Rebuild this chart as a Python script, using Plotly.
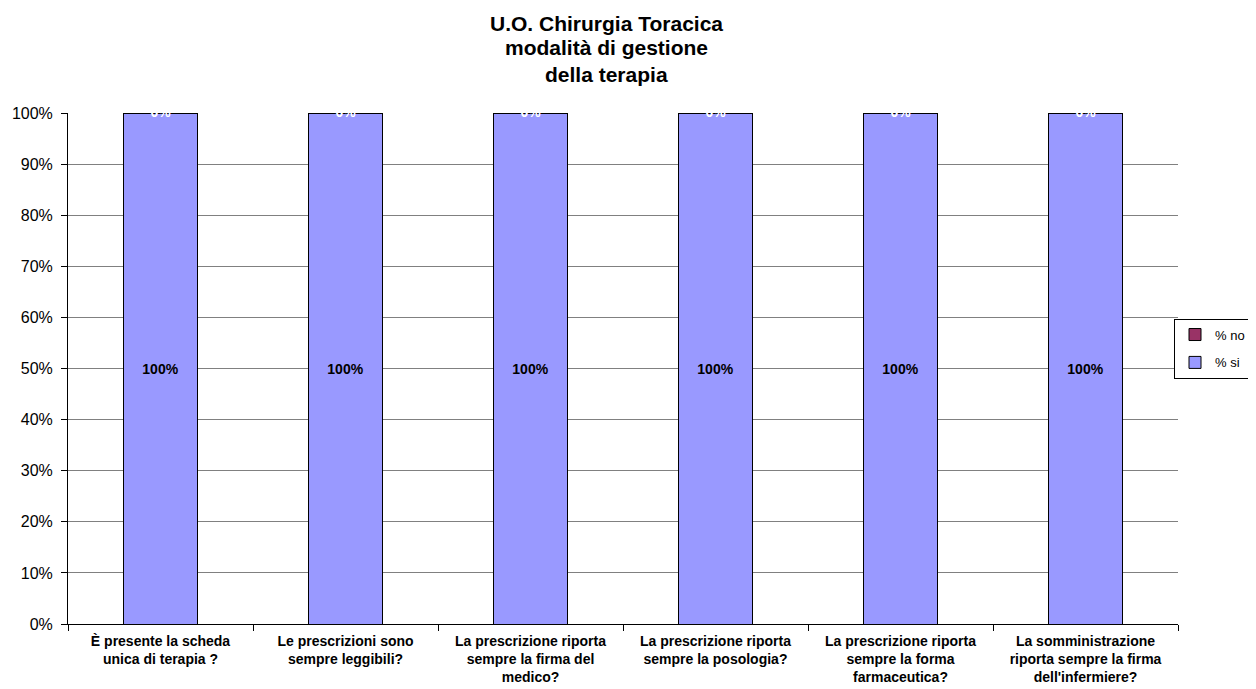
import plotly.graph_objects as go

categories = [
    "È presente la scheda<br>unica di terapia ?",
    "Le prescrizioni sono<br>sempre leggibili?",
    "La prescrizione riporta<br>sempre la firma del<br>medico?",
    "La prescrizione riporta<br>sempre la posologia?",
    "La prescrizione riporta<br>sempre la forma<br>farmaceutica?",
    "La somministrazione<br>riporta sempre la firma<br>dell'infermiere?",
]
si_values = [1.0, 1.0, 1.0, 1.0, 1.0, 1.0]
no_values = [0.0, 0.0, 0.0, 0.0, 0.0, 0.0]
title_lines = ["U.O. Chirurgia Toracica", "modalità di gestione", "della terapia"]

FONT = "Liberation Sans, Arial, sans-serif"

# the page body adds an 8px margin, so the figure fills the rest of the viewport
W, H = 1248, 681
L, R, T, B = 60, 78, 105, 65

fig = go.Figure()
fig.add_trace(go.Bar(
    name="% si", x=categories, y=si_values, legendgroup="si", legendrank=2,
    marker=dict(color="#9999FF", line=dict(color="#000000", width=1)),
    text=[f"{v:.0%}" for v in si_values], textposition="inside",
    insidetextanchor="middle",
    textfont=dict(family=FONT, size=14, color="#000000", weight="bold"),
    hoverinfo="skip",
))
fig.add_trace(go.Bar(
    name="% no", x=categories, y=no_values, legendgroup="no", legendrank=1,
    marker=dict(color="#993366", line=dict(color="#000000", width=1)),
    hoverinfo="skip",
))
fig.add_trace(go.Scatter(
    x=categories, y=[s + n for s, n in zip(si_values, no_values)],
    mode="text", text=[f"{v:.0%}" for v in no_values],
    textposition="middle center",
    textfont=dict(family=FONT, size=14, color="#FFFFFF", weight="bold"),
    showlegend=False, hoverinfo="skip", cliponaxis=False,
))

plot_h = H - T - B
plot_w = W - L - R
title_bottoms = [28.5, 53.5, 79.5]  # figure pixels from top (text box bottoms)
title_cx = 598
annotations = []
for line, yb in zip(title_lines, title_bottoms):
    annotations.append(dict(
        text=line, xref="paper", yref="paper",
        x=(title_cx - L) / plot_w, xanchor="center",
        y=(H - B - yb) / plot_h, yanchor="bottom",
        showarrow=False,
        font=dict(family=FONT, size=21, color="#000000", weight="bold"),
    ))

fig.update_layout(
    width=W, height=H,
    barmode="stack", bargap=0.6,
    paper_bgcolor="white", plot_bgcolor="white",
    margin=dict(l=L, r=R, t=T, b=B, autoexpand=False),
    font=dict(family=FONT, color="#000000"),
    annotations=annotations,
    legend=dict(
        x=(1166 - L) / plot_w, xanchor="left", y=0.539, yanchor="middle",
        traceorder="grouped",
        bordercolor="#000000", borderwidth=1, bgcolor="white",
        font=dict(family=FONT, size=13, color="#000000"),
        itemwidth=30, tracegroupgap=8,
    ),
    showlegend=True,
)
fig.update_yaxes(
    range=[0, 1], tickformat=".0%", dtick=0.1, tick0=0,
    showgrid=True, gridcolor="#808080", gridwidth=1,
    showline=True, linecolor="#000000", linewidth=1,
    ticks="outside", ticklen=6, tickcolor="#000000",
    ticklabelstandoff=5,
    tickfont=dict(family=FONT, size=16, color="#000000"),
    zeroline=False,
)
fig.update_xaxes(
    showline=True, linecolor="#000000", linewidth=1,
    ticks="outside", ticklen=6, tickcolor="#000000",
    tickson="boundaries", ticklabelstandoff=4,
    tickfont=dict(family=FONT, size=14, color="#000000", weight="bold"),
    showgrid=False,
)

fig.write_html("out.html")
